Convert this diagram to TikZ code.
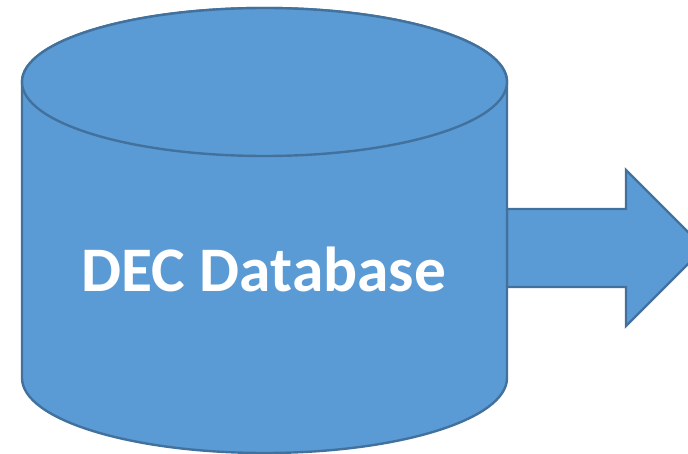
\documentclass[tikz,border=0pt]{standalone}
\usepackage{fontspec}
\setmainfont{Carlito}
\usepackage{xcolor}
\usepackage{tikz}
\definecolor{dbfill}{HTML}{5B9BD5}
\definecolor{dbline}{HTML}{41719C}
\begin{document}
\begin{tikzpicture}[
		x = 1pt,
		y = -1pt,
		dbshape/.style = {fill=dbfill,draw=dbline,line width=2.4pt,line join=miter}]

		\useasboundingbox (0,0) rectangle (688,454);
		\clip (0,0) rectangle (688,454);

		\draw[dbshape] (507,209) -- (626,209) -- (626,170) -- (704,248) -- (626,326) -- (626,287) -- (507,287) -- cycle;

		\draw[dbshape] (22,82) -- (22,378) arc[start angle=180,end angle=360,x radius=242.5,y radius=-75] -- (507,82) arc[start angle=0,end angle=180,x radius=242.5,y radius=-74] -- cycle;
		\draw[dbshape] (264.5,82) ellipse[x radius=242.5,y radius=74];

		\node[text=white,font=\bfseries\fontsize{63.5}{63.5}\selectfont] (dblabel) at (264,269) {DEC Database};

	\end{tikzpicture}
\end{document}
